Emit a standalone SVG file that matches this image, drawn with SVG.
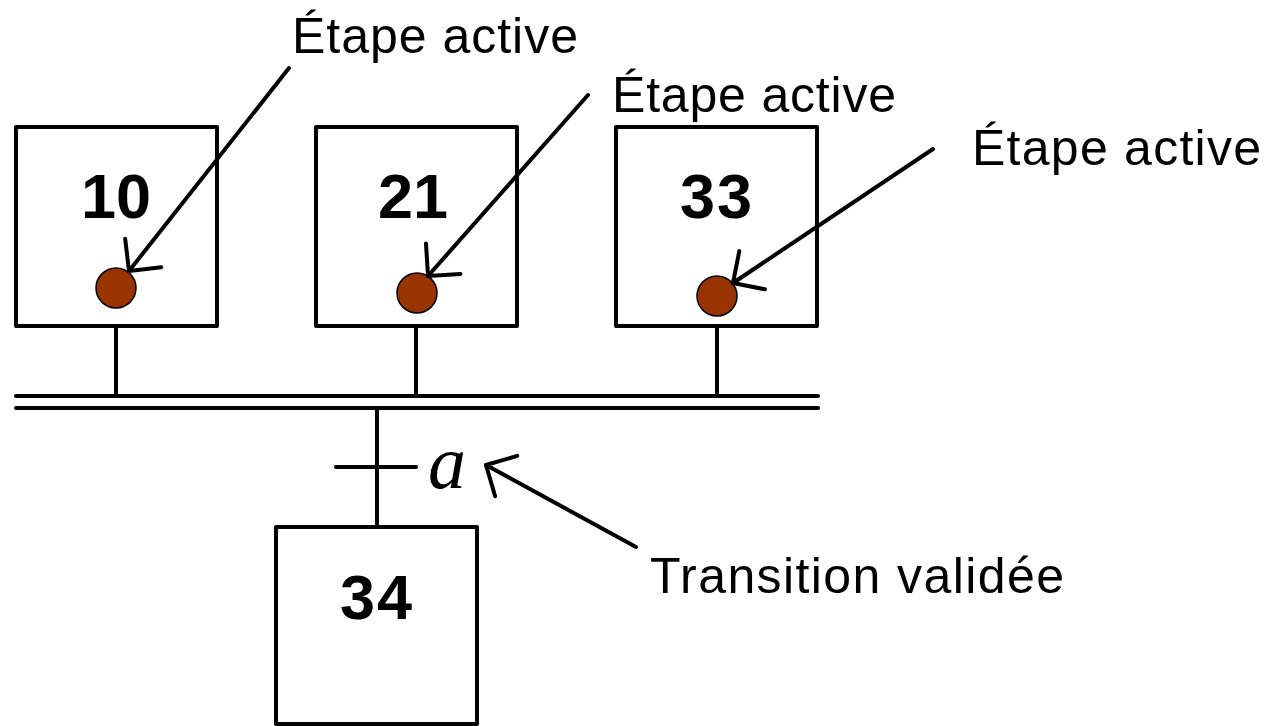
<svg xmlns="http://www.w3.org/2000/svg" width="1271" height="726" viewBox="0 0 1271 726">
<style>
.box{fill:#fff;stroke:#000;stroke-width:4;stroke-linejoin:round}
.ln{stroke:#000;stroke-width:4;stroke-linecap:round;fill:none}
.num{font-family:"Liberation Sans",Arial,sans-serif;font-weight:bold;font-size:63px;text-anchor:middle;fill:#000}
.lbl{font-family:"Liberation Sans",Arial,sans-serif;font-size:50px;fill:#000}
.tok{fill:#993300;stroke:#000;stroke-width:1.5}
.arr{stroke:#000;stroke-width:4;stroke-linecap:round;fill:none;marker-end:url(#open)}
</style>
<defs>
<marker id="open" markerUnits="userSpaceOnUse" orient="auto" markerWidth="60" markerHeight="60" refX="0" refY="0" viewBox="-30 -30 60 60" overflow="visible">
<path d="M -23,-23 L 0,0 L -23,23" fill="none" stroke="#000" stroke-width="4" stroke-linecap="round" stroke-linejoin="round"/>
</marker>
</defs>
<rect width="1271" height="726" fill="#fff"/>
<g id="connectors">
<line class="ln" x1="116" y1="326" x2="116" y2="396"/>
<line class="ln" x1="416" y1="326" x2="416" y2="396"/>
<line class="ln" x1="717" y1="326" x2="717" y2="396"/>
<line class="ln" x1="16" y1="396" x2="818" y2="396"/>
<line class="ln" x1="16" y1="408" x2="818" y2="408"/>
<line class="ln" x1="377" y1="408" x2="377" y2="527"/>
<line class="ln" x1="336" y1="467" x2="416" y2="467"/>
</g>
<g id="step10">
<rect class="box" x="16" y="127" width="201" height="199"/>
<text class="num" x="116" y="218" textLength="70" lengthAdjust="spacing">10</text>
<circle class="tok" cx="116" cy="288" r="20"/>
</g>
<g id="step21">
<rect class="box" x="316" y="127" width="201" height="199"/>
<text class="num" x="413" y="218" textLength="70" lengthAdjust="spacing">21</text>
<circle class="tok" cx="417" cy="293" r="20"/>
</g>
<g id="step33">
<rect class="box" x="616" y="127" width="201" height="199"/>
<text class="num" x="716" y="218" textLength="72" lengthAdjust="spacing">33</text>
<circle class="tok" cx="717" cy="296" r="20"/>
</g>
<g id="step34">
<rect class="box" x="276" y="527" width="201" height="197"/>
<text class="num" x="376" y="619" textLength="72" lengthAdjust="spacing">34</text>
</g>
<g id="transition">
<text x="428" y="488" font-family="'Liberation Serif','Times New Roman',serif" font-style="italic" font-size="76" fill="#000">a</text>
</g>
<g id="annotations">
<text class="lbl" x="292" y="53" textLength="286" lengthAdjust="spacing">Étape active</text>
<text class="lbl" x="612" y="112" textLength="284" lengthAdjust="spacing">Étape active</text>
<text class="lbl" x="972" y="165" textLength="289" lengthAdjust="spacing">Étape active</text>
<text class="lbl" x="650" y="593" textLength="414" lengthAdjust="spacing">Transition validée</text>
<line class="arr" x1="289" y1="68" x2="129" y2="271"/>
<line class="arr" x1="588" y1="95" x2="428" y2="276"/>
<line class="arr" x1="933" y1="149" x2="733" y2="283"/>
<line class="arr" x1="636" y1="547" x2="486" y2="465"/>
</g>
</svg>
